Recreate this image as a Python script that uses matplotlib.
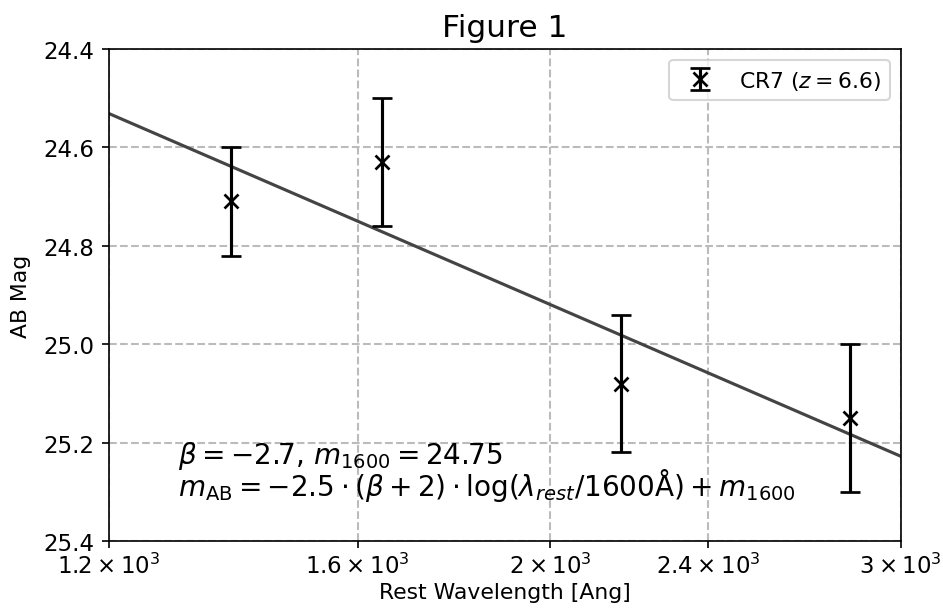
import numpy as np
import matplotlib
matplotlib.use("Agg")
import matplotlib.pyplot as plt

# CR7 photometry (rest-frame)
wave = [1382, 1645, 2171, 2830]
mag = [24.71, 24.63, 25.08, 25.15]
mag_err = [0.11, 0.13, 0.14, 0.15]

beta = -2.7
m1600 = 24.75

xticks = [1200, 1600, 2000, 2400, 3000]
xticklabels = [r'$1.2\times10^{3}$', r'$1.6\times10^{3}$', r'$2\times10^{3}$',
               r'$2.4\times10^{3}$', r'$3\times10^{3}$']
yticks = [24.4, 24.6, 24.8, 25.0, 25.2, 25.4]

fig = plt.figure(figsize=(943 / 150, 609 / 150), dpi=150)
ax = fig.add_axes([0.1156, 0.110, 0.8396, 0.808])

lam = np.linspace(1200, 3000, 200)
model = -2.5 * (beta + 2) * np.log10(lam / 1600) + m1600
ax.plot(lam, model, color='#444444', lw=1.5)

ax.errorbar(wave, mag, yerr=mag_err, fmt='x', color='black', ms=7, mew=1.3,
            elinewidth=1.5, capsize=5, capthick=1.5, label=r'CR7 ($z=6.6$)')

ax.set_xscale('log')
ax.set_xlim(1200, 3000)
ax.set_xticks(xticks)
ax.set_xticklabels(xticklabels)
ax.xaxis.set_minor_locator(matplotlib.ticker.NullLocator())
ax.set_ylim(25.4, 24.4)
ax.set_yticks(yticks)
ax.set_yticklabels([f'{v:.1f}' for v in yticks])
ax.tick_params(labelsize=11)
ax.tick_params(axis='x', pad=2)

ax.grid(True, ls='--', color='#bbbbbb', lw=1)
ax.set_axisbelow(True)

ax.set_xlabel('Rest Wavelength [Ang]', fontsize=10.5, labelpad=2)
ax.set_ylabel('AB Mag', fontsize=10.5, labelpad=6)
ax.set_title('Figure 1', fontsize=15)

ax.text(0.087, 0.078,
        r'$\beta = -2.7$, $m_{1600} = 24.75$' '\n'
        r'$m_{\rm AB} = -2.5 \cdot (\beta + 2) \cdot \log(\lambda_{rest}/1600{\rm \AA}) + m_{1600}$',
        transform=ax.transAxes, fontsize=13.4, va='bottom', ha='left', linespacing=0.8)

ax.legend(loc='upper right', fontsize=10.5)

fig.savefig('out.png', dpi=150)
